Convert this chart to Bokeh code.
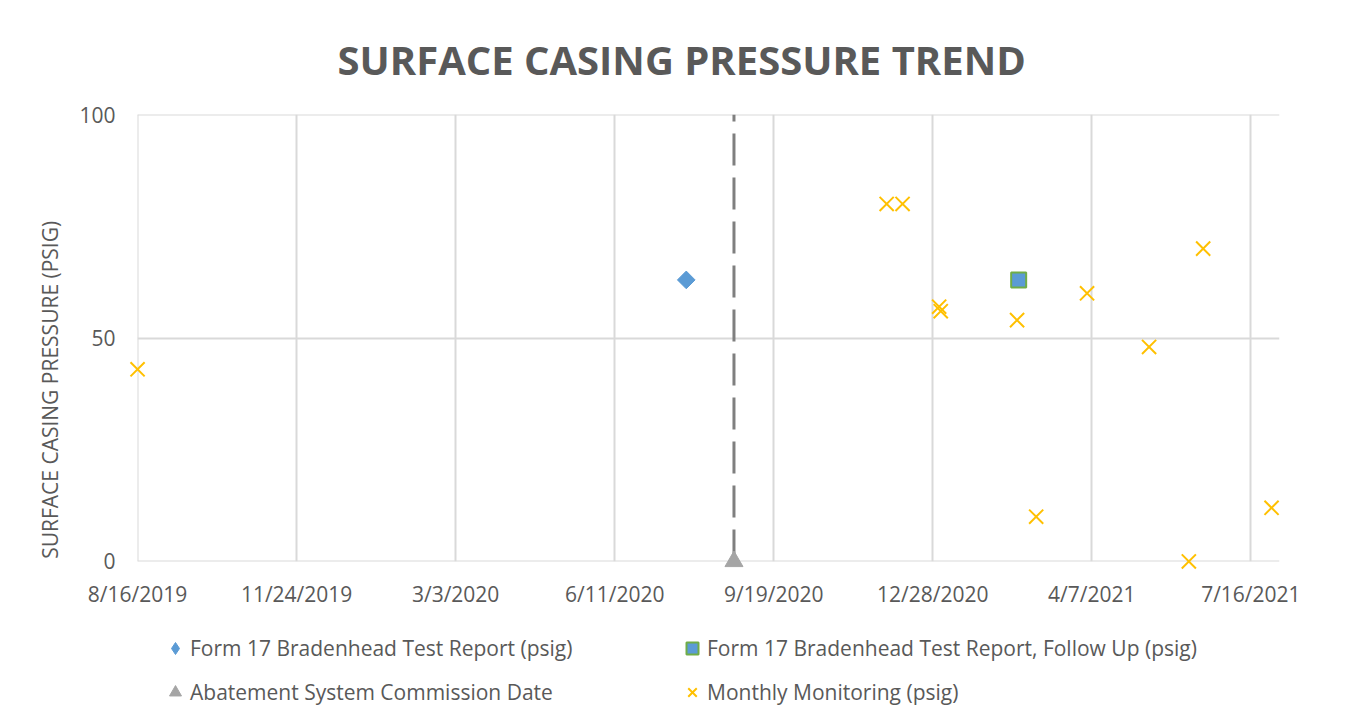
import pandas as pd
from bokeh.plotting import figure
from bokeh.layouts import column
from bokeh.models import (Range1d, FixedTicker, CustomJSTickFormatter, Legend,
                          LegendItem, Title)
from bokeh.embed import file_html
from bokeh.resources import INLINE

# ---- data ----
form17_dates = ["2020-07-26"]
form17_psig = [63]
followup_dates = ["2021-02-20"]
followup_psig = [63]
abatement_dates = ["2020-08-25"]
abatement_psig = [0]
abatement_top = [100]
monthly_dates = ["2019-08-16", "2020-11-29", "2020-12-09", "2021-01-01", "2021-01-02",
                 "2021-02-19", "2021-03-03", "2021-04-04", "2021-05-13", "2021-06-07",
                 "2021-06-16", "2021-07-29"]
monthly_psig = [43, 80, 80, 57, 56, 54, 10, 60, 48, 0, 70, 12]
x_tick_labels = ["8/16/2019", "11/24/2019", "3/3/2020", "6/11/2020", "9/19/2020",
                 "12/28/2020", "4/7/2021", "7/16/2021"]
y_ticks = [0, 50, 100]
legend_labels = ["Form 17 Bradenhead Test Report (psig)",
                 "Form 17 Bradenhead Test Report, Follow Up (psig)",
                 "Abatement System Commission Date",
                 "Monthly Monitoring (psig)"]

TXT = "#595959"
GRID = "#d9d9d9"
FONT = "Open Sans"
BLUE, GREEN, GRAY, GOLD = "#5B9BD5", "#70AD47", "#A5A5A5", "#FFC000"


def to_dt(lst):
    return pd.to_datetime(lst)


def ms(s):
    return pd.Timestamp(s).value / 1e6


tick_ms = [ms(pd.to_datetime(t, format="%m/%d/%Y")) for t in x_tick_labels]
HOUR = 3600 * 1000
X_START, X_END = ms("2019-08-16") - HOUR, ms("2021-08-03")

p = figure(width=1344, height=610, x_axis_type="datetime", output_backend="svg",
           toolbar_location=None,
           x_range=Range1d(X_START, X_END),
           y_range=Range1d(-0.02, 100.02),
           min_border_left=137, min_border_right=65, min_border_top=114,
           min_border_bottom=48)
p.outline_line_color = None
p.background_fill_color = "white"
p.border_fill_color = "white"

p.add_layout(Title(text="SURFACE CASING PRESSURE TREND", align="left", offset=200,
                   text_font=FONT, text_font_size="40px", text_font_style="bold",
                   text_color=TXT, standoff=56), "above")

# axes
p.xaxis.ticker = FixedTicker(ticks=tick_ms)
p.xaxis.formatter = CustomJSTickFormatter(code="""
const d = new Date(tick);
return (d.getUTCMonth()+1) + "/" + d.getUTCDate() + "/" + d.getUTCFullYear();
""")
p.yaxis.ticker = FixedTicker(ticks=y_ticks)
for ax in (p.xaxis[0], p.yaxis[0]):
    ax.axis_line_color = None
    ax.major_tick_line_color = None
    ax.minor_tick_line_color = None
    ax.major_label_text_font = FONT
    ax.major_label_text_font_size = "21px"
    ax.major_label_text_color = TXT
p.xaxis.major_label_standoff = 12
p.yaxis.major_label_standoff = 16
p.yaxis.axis_label = "SURFACE CASING PRESSURE (PSIG)" + "\u00a0" * 19
p.yaxis.axis_label_text_font = FONT
p.yaxis.axis_label_text_font_size = "21px"
p.yaxis.axis_label_text_font_style = "normal"
p.yaxis.axis_label_text_color = TXT
p.yaxis.axis_label_standoff = 12

p.xgrid.grid_line_color = GRID
p.ygrid.grid_line_color = GRID
p.xgrid.grid_line_width = 2
p.ygrid.grid_line_width = 2

# dashed commission line
p.segment(x0=to_dt(abatement_dates), y0=abatement_psig, x1=to_dt(abatement_dates),
          y1=abatement_top, line_color="#7f7f7f", line_width=3, line_dash="32 12")

p.scatter(to_dt(form17_dates), form17_psig, marker="square", angle=0.785398,
          size=12.5, fill_color=BLUE, line_color=BLUE, level="overlay")
p.scatter(to_dt(followup_dates), followup_psig, marker="square", size=15,
          fill_color=BLUE, line_color=GREEN, line_width=2, level="overlay")
p.scatter(to_dt(abatement_dates), abatement_psig, marker="triangle", size=18,
          fill_color=GRAY, line_color=GRAY, level="overlay")
p.scatter(to_dt(monthly_dates), monthly_psig, marker="x", size=20,
          line_color=GOLD, line_width=2, level="overlay")

# ---- legend strip (second figure directly beneath; its y range hides the proxies) ----
lg = figure(width=1344, height=102, output_backend="svg", toolbar_location=None,
            x_axis_type="datetime",
            x_range=Range1d(X_START, X_END), y_range=Range1d(1000, 1001),
            x_axis_location=None, y_axis_location=None,
            min_border_left=0, min_border_right=0, min_border_top=0, min_border_bottom=0)
lg.outline_line_color = None
lg.xgrid.visible = False
lg.ygrid.visible = False
lg.background_fill_color = "white"
lg.border_fill_color = "white"

g_form = lg.scatter(to_dt(form17_dates), form17_psig, marker="diamond",
                    fill_color=BLUE, line_color=BLUE)
g_follow = lg.scatter(to_dt(followup_dates), followup_psig, marker="square",
                      fill_color=BLUE, line_color=GREEN, line_width=2)
g_abate = lg.scatter(to_dt(abatement_dates), abatement_psig, marker="triangle",
                     fill_color=GRAY, line_color=GRAY)
g_month = lg.scatter(to_dt(monthly_dates), monthly_psig, marker="x", line_color=GOLD,
                     line_width=2)

leg_style = dict(orientation="horizontal",
                 label_text_font=FONT, label_text_font_size="21px", label_text_color=TXT,
                 border_line_color=None, background_fill_alpha=0, glyph_width=30,
                 glyph_height=30, label_standoff=0, label_width=472, label_height=24,
                 spacing=15, margin=0, padding=0)
legend1 = Legend(items=[LegendItem(label=legend_labels[0], renderers=[g_form]),
                        LegendItem(label=legend_labels[1], renderers=[g_follow])],
                 location=(23, 49), **leg_style)
legend2 = Legend(items=[LegendItem(label=legend_labels[2], renderers=[g_abate]),
                        LegendItem(label=legend_labels[3], renderers=[g_month])],
                 location=(23, 5), **leg_style)
lg.add_layout(legend1, "center")
lg.add_layout(legend2, "center")

layout = column(p, lg, spacing=0)
open("out.html", "w").write(file_html(layout, INLINE))
